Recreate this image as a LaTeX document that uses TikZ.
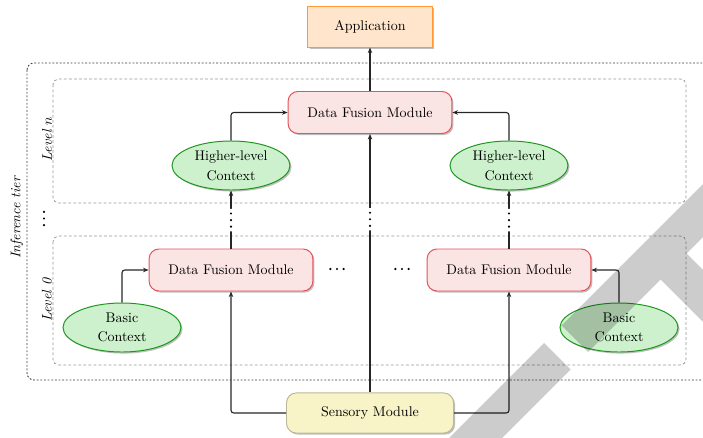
\documentclass[tikz,border=0pt]{standalone}
\usetikzlibrary{arrows.meta,shapes.geometric,shadows}

\definecolor{appfill}{RGB}{255,229,204}
\definecolor{appdraw}{RGB}{255,153,51}
\definecolor{fusefill}{RGB}{250,228,228}
\definecolor{fusedraw}{RGB}{226,84,90}
\definecolor{ctxfill}{RGB}{204,241,204}
\definecolor{ctxdraw}{RGB}{30,150,30}
\definecolor{sensefill}{RGB}{249,243,200}
\definecolor{sensedraw}{RGB}{188,184,150}
\definecolor{tierline}{RGB}{60,60,60}
\definecolor{levelline}{RGB}{150,150,150}

\tikzset{
  softshadow/.style={drop shadow={shadow xshift=1.1pt,shadow yshift=-1.1pt,opacity=0.25,fill=black}},
  appbox/.style={draw=appdraw,fill=appfill,line width=0.7pt,minimum width=88.6pt,minimum height=29.3pt,inner sep=0pt,softshadow},
  fusebox/.style={draw=fusedraw,fill=fusefill,line width=0.7pt,rounded corners=7pt,minimum width=117pt,minimum height=30pt,inner sep=0pt,softshadow},
  ctxell/.style={ellipse,draw=ctxdraw,fill=ctxfill,line width=0.7pt,minimum width=84.3pt,minimum height=35pt,inner sep=0pt,align=center,softshadow},
  sensebox/.style={draw=sensedraw,fill=sensefill,line width=0.7pt,rounded corners=7pt,minimum width=119.3pt,minimum height=28.6pt,inner sep=0pt,softshadow},
  conn/.style={-{Stealth[length=4pt,width=3.2pt]},line width=0.8pt,black!85,rounded corners=2pt},
  tierbox/.style={draw=tierline,line width=0.6pt,dash pattern=on 1.3pt off 1.3pt,rounded corners=5pt},
  levelbox/.style={draw=levelline,line width=0.5pt,dash pattern=on 2pt off 1.6pt,rounded corners=4pt},
  vgap/.style={fill=white,inner sep=0pt,minimum width=5pt,minimum height=16pt,
    path picture={\foreach \d in {-4.7,0,4.7}
      \fill[black] ([yshift=\d pt]path picture bounding box.center) circle[radius=0.85pt];}},
  hgap/.style={inner sep=0pt,minimum width=16pt,minimum height=5pt,
    path picture={\foreach \d in {-4.7,0,4.7}
      \fill[black] ([xshift=\d pt]path picture bounding box.center) circle[radius=0.85pt];}},
  levellabel/.style={rotate=90,font=\itshape,inner sep=0pt}
}

\begin{document}
\begin{tikzpicture}[x=0.7143pt,y=-0.7143pt]
\useasboundingbox (0,0) rectangle (703,437);

% tier and level frames
\begin{scope}
  \clip (0,0) rectangle (703,437);
  \draw[tierbox] (27,63) rectangle (740,380);
\end{scope}
\draw[levelbox] (53,79) rectangle (686,203);
\draw[levelbox] (53,236) rectangle (686,365);

\node[levellabel] (tierlab) at (17,218) {Inference tier};
\node[levellabel] (lvln) at (47,139) {Level $n$};
\node[levellabel] (lvl0) at (47,300) {Level 0};
\node[vgap,fill=none] (levdots) at (44,218.5) {};

% modules
\node[appbox] (app) at (370,26.5) {Application};
\node[fusebox] (dfn) at (370,112.5) {Data Fusion Module};
\node[ctxell] (hl) at (231,165.5) {Higher-level\\[2pt]Context};
\node[ctxell] (hr) at (509,165.5) {Higher-level\\[2pt]Context};
\node[fusebox] (dl) at (231,270) {Data Fusion Module};
\node[fusebox] (dr) at (509,270) {Data Fusion Module};
\node[ctxell] (bl) at (122,327.5) {Basic\\[2pt]Context};
\node[ctxell] (br) at (619,327.5) {Basic\\[2pt]Context};
\node[sensebox] (sm) at (370,413) {Sensory Module};

\node[hgap] (midl) at (337,269) {};
\node[hgap] (midr) at (402,269) {};

% connectors
\draw[conn] (dfn.north) -- (app.south);
\draw[conn] (hl.north) |- (dfn.west);
\draw[conn] (hr.north) |- (dfn.east);
\draw[conn] (bl.north) |- (dl.west);
\draw[conn] (br.north) |- (dr.east);
\draw[conn] (sm.west) -| (dl.south);
\draw[conn] (sm.east) -| (dr.south);
\draw[conn] (dl.north) -- node[vgap,pos=0.49] {} (hl.south);
\draw[conn] (dr.north) -- node[vgap,pos=0.49] {} (hr.south);
\draw[conn] (sm.north) -- node[vgap,pos=0.67] {} (dfn.south);

% translucent stamp across the lower right
\begin{scope}
  \clip (0,0) rectangle (703,437);
  \fill[black,fill opacity=0.2]
    (440,447) -- (544,343) -- (570.5,369.5) -- (493,447) -- cycle;
  \fill[black,fill opacity=0.2]
    (561.5,325.5) -- (588,352) -- (660.5,279.5) -- (720,339) -- (720,287)
    -- (686.5,253.5) -- (720,220) -- (720,167) -- cycle;
\end{scope}
\end{tikzpicture}
\end{document}
